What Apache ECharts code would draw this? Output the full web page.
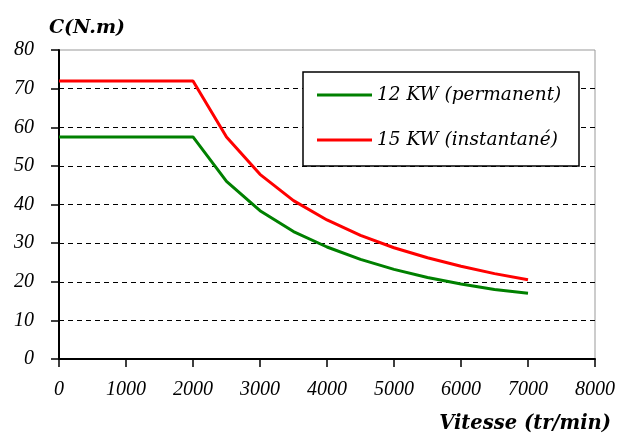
<!DOCTYPE html>
<html>
<head>
<meta charset="utf-8">
<script src="https://cdn.jsdelivr.net/npm/echarts@6/dist/echarts.min.js"></script>
<style>html,body{margin:0;padding:0;background:#fff}#c{width:618px;height:435px}</style>
</head>
<body>
<div id="c"></div>
<script>
var speed = [0, 2000, 2500, 3000, 3500, 4000, 4500, 5000, 5500, 6000, 6500, 7000];
var c12 = [57.5, 57.5, 46, 38.4, 33, 29, 25.8, 23.2, 21.1, 19.4, 18, 17];
var c15 = [72, 72, 57.5, 47.8, 41, 36, 32, 28.8, 26.2, 24, 22.1, 20.5];
var seriesNames = ['12 KW (permanent)', '15 KW (instantané)'];
var xTicks = {min: 0, max: 8000, interval: 1000};
var yTicks = {min: 0, max: 80, interval: 10};

function pairs(xs, ys) { return xs.map(function (x, i) { return [x, ys[i]]; }); }

var chart = echarts.init(document.getElementById('c'), null, {renderer: 'canvas'});
var tickFont = {fontFamily: 'Liberation Serif', fontStyle: 'italic', fontSize: 20, color: '#000'};
chart.setOption({
  animation: false,
  backgroundColor: '#fff',
  grid: {left: 59, right: 22, top: 50, bottom: 76, show: true, borderColor: '#999', borderWidth: 1, backgroundColor: 'transparent'},
  legend: {
    orient: 'vertical', left: 303, top: 72,
    backgroundColor: '#fff', borderColor: '#000', borderWidth: 1.5,
    padding: [13, 10, 16, 14], itemGap: 25, itemWidth: 55, itemHeight: 3, icon: 'rect',
    textStyle: {fontFamily: 'DejaVu Serif', fontStyle: 'italic', fontSize: 18.5, color: '#000', lineHeight: 20, width: 192},
    data: seriesNames
  },
  xAxis: {
    type: 'value', min: xTicks.min, max: xTicks.max, interval: xTicks.interval,
    axisLine: {show: true, onZero: false, lineStyle: {color: '#000', width: 2}},
    axisTick: {show: true, length: 8, lineStyle: {color: '#000', width: 1.5}},
    axisLabel: Object.assign({margin: 21, formatter: function (v) { return String(v); }}, tickFont),
    splitLine: {show: false},
    name: 'Vitesse (tr/min)', nameLocation: 'end', nameGap: 16,
    nameTextStyle: {fontFamily: 'DejaVu Serif', fontStyle: 'italic', fontWeight: 'bold', fontSize: 19.5, color: '#000', align: 'right', verticalAlign: 'top', padding: [55, 0, 0, 0]}
  },
  yAxis: {
    type: 'value', min: yTicks.min, max: yTicks.max, interval: yTicks.interval,
    axisLine: {show: true, lineStyle: {color: '#000', width: 2}},
    axisTick: {show: true, length: 8, lineStyle: {color: '#000', width: 1.5}},
    axisLabel: Object.assign({margin: 25}, tickFont),
    splitLine: {show: true, showMinLine: false, showMaxLine: false, lineStyle: {color: '#000', width: 1, type: [5, 4]}},
    name: 'C(N.m)', nameLocation: 'end', nameGap: 12,
    nameTextStyle: {fontFamily: 'DejaVu Serif', fontStyle: 'italic', fontWeight: 'bold', fontSize: 19, color: '#000', align: 'left', padding: [0, 0, 0, -10]}
  },
  series: [
    {name: seriesNames[0], type: 'line', data: pairs(speed, c12), showSymbol: false, symbol: 'none', lineStyle: {color: '#008000', width: 3}, itemStyle: {color: '#008000'}},
    {name: seriesNames[1], type: 'line', data: pairs(speed, c15), showSymbol: false, symbol: 'none', lineStyle: {color: '#ff0000', width: 3}, itemStyle: {color: '#ff0000'}}
  ]
});
</script>
</body>
</html>
